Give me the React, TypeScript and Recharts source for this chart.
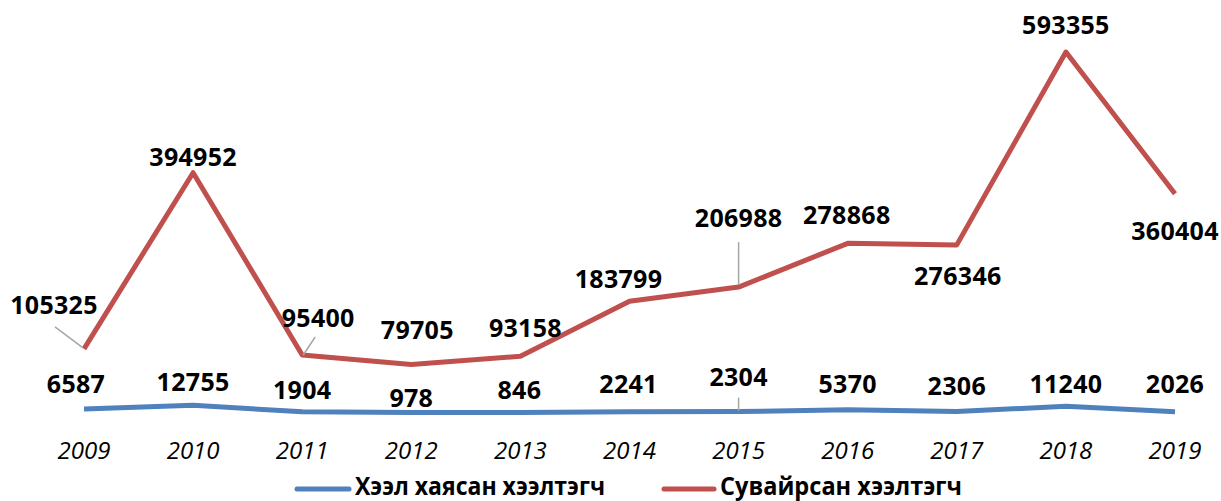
import React from 'react';
import { LineChart, Line, XAxis, YAxis, Legend, LabelList } from 'recharts';

const years = ['2009', '2010', '2011', '2012', '2013', '2014', '2015', '2016', '2017', '2018', '2019'];
const khaysan = [6587, 12755, 1904, 978, 846, 2241, 2304, 5370, 2306, 11240, 2026];
const suvairsan = [105325, 394952, 95400, 79705, 93158, 183799, 206988, 278868, 276346, 593355, 360404];

const seriesNames = ['Хээл хаясан хээлтэгч', 'Сувайрсан хээлтэгч'];

const BLUE = '#4F81BD';
const RED = '#C0504D';
const LEADER = '#A6A6A6';

const data = years.map((year, i) => ({ year, khaysan: khaysan[i], suvairsan: suvairsan[i] }));

// label placement relative to the point: text centre offset + optional leader line
type LabelPos = { dx: number; dy: number; leader?: [number, number, number, number] };

const redLabels: LabelPos[] = [
  { dx: -30, dy: -44, leader: [-29, -22, -1, -1] },
  { dx: 0, dy: -16 },
  { dx: 16, dy: -37, leader: [13, -18, 1, 0] },
  { dx: 6, dy: -35 },
  { dx: 5, dy: -28 },
  { dx: -11, dy: -22 },
  { dx: 0, dy: -69, leader: [0, -45, 0, -2] },
  { dx: -1, dy: -28 },
  { dx: 1, dy: 31 },
  { dx: 0, dy: -27 },
  { dx: 0, dy: 37 },
];

const blueLabels: LabelPos[] = [
  { dx: -8, dy: -25 },
  { dx: 0, dy: -23 },
  { dx: 0, dy: -22 },
  { dx: 0, dy: -14 },
  { dx: -1, dy: -22 },
  { dx: -1, dy: -28 },
  { dx: 0, dy: -35, leader: [0, -14, 0, -1] },
  { dx: 0, dy: -26 },
  { dx: 0, dy: -26 },
  { dx: 0, dy: -22 },
  { dx: 0, dy: -28 },
];

const labelFont = '"Open Sans", "Liberation Sans", Arial, sans-serif';

const makeLabel = (positions: LabelPos[]) => (props: any) => {
  const { x, y, value, index } = props;
  const p = positions[index];
  if (!p || x == null || y == null) return null;
  return (
    <g key={`lbl-${index}`}>
      {p.leader ? (
        <line
          x1={x + p.leader[0]}
          y1={y + p.leader[1]}
          x2={x + p.leader[2]}
          y2={y + p.leader[3]}
          stroke={LEADER}
          strokeWidth={1.5}
        />
      ) : null}
      <text
        x={x + p.dx}
        y={y + p.dy + 9}
        textAnchor="middle"
        fontFamily={labelFont}
        fontWeight="bold"
        fontSize={25}
        letterSpacing={0.3}
        fill="#000"
      >
        {value}
      </text>
    </g>
  );
};

const YearTick = (props: any) => {
  const { x, y, payload } = props;
  return (
    <text
      x={x}
      y={y + 38}
      textAnchor="middle"
      fontFamily={labelFont}
      fontStyle="italic"
      fontSize={24}
      fill="#000"
    >
      {payload.value}
    </text>
  );
};

// legend box: 46px tall, sits at the very bottom of the chart (top edge at y=455)
const LegendContent = () => (
  <div style={{ height: 46 }}>
    <svg width={1221} height={46} style={{ display: 'block', overflow: 'visible' }}>
      <line x1={297} y1={34} x2={349} y2={34} stroke={BLUE} strokeWidth={5} strokeLinecap="round" />
      <text
        x={355}
        y={40}
        textLength={250}
        lengthAdjust="spacingAndGlyphs"
        fontFamily={labelFont}
        fontWeight="bold"
        fontSize={25}
        fill="#000"
      >
        {seriesNames[0]}
      </text>
      <line x1={664} y1={34} x2={714} y2={34} stroke={RED} strokeWidth={5} strokeLinecap="round" />
      <text
        x={720}
        y={40}
        textLength={242}
        lengthAdjust="spacingAndGlyphs"
        fontFamily={labelFont}
        fontWeight="bold"
        fontSize={25}
        fill="#000"
      >
        {seriesNames[1]}
      </text>
    </svg>
  </div>
);

export default function App() {
  return (
    <div style={{ width: 1221, height: 501, background: '#fff' }}>
      <style>{`body { margin: 0; }`}</style>
      <LineChart width={1221} height={501} data={data} margin={{ top: 48, right: 0, bottom: 0, left: 0 }}>
        <XAxis
          dataKey="year"
          scale="point"
          padding={{ left: 84, right: 46 }}
          axisLine={false}
          tickLine={false}
          height={42}
          interval={0}
          tick={<YearTick />}
        />
        <YAxis hide domain={[0, 600000]} />
        <Legend verticalAlign="bottom" content={<LegendContent />} wrapperStyle={{ left: 0, width: 1221 }} />
        <Line
          dataKey="khaysan"
          name={seriesNames[0]}
          stroke={BLUE}
          strokeWidth={5}
          dot={false}
          strokeLinejoin="round"
          isAnimationActive={false}
        >
          <LabelList dataKey="khaysan" content={makeLabel(blueLabels)} />
        </Line>
        <Line
          dataKey="suvairsan"
          name={seriesNames[1]}
          stroke={RED}
          strokeWidth={5}
          dot={false}
          strokeLinejoin="round"
          isAnimationActive={false}
        >
          <LabelList dataKey="suvairsan" content={makeLabel(redLabels)} />
        </Line>
      </LineChart>
    </div>
  );
}
